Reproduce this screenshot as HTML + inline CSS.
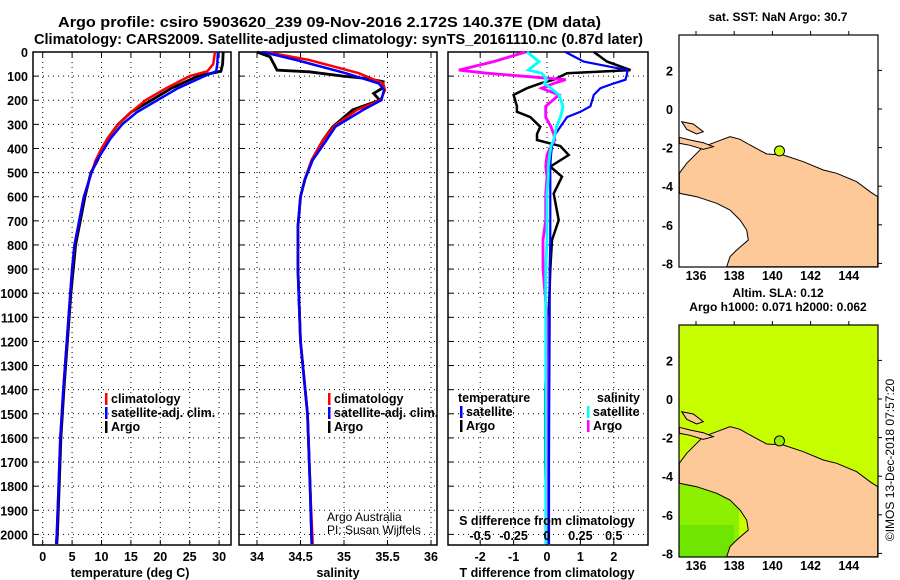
<!DOCTYPE html>
<html><head><meta charset="utf-8"><style>
body{margin:0;background:#fff;}
svg{display:block;font-family:"Liberation Sans",sans-serif;font-weight:bold;}
</style></head><body>
<svg id="s" width="900" height="580" viewBox="0 0 900 580" xmlns="http://www.w3.org/2000/svg">
<text x="58" y="27" font-size="14.5" textLength="543" lengthAdjust="spacingAndGlyphs">Argo profile: csiro 5903620_239 09-Nov-2016 2.172S 140.37E (DM data)</text>
<text x="34" y="44" font-size="14.5" textLength="609" lengthAdjust="spacingAndGlyphs">Climatology: CARS2009. Satellite-adjusted climatology: synTS_20161110.nc (0.87d later)</text>
<g id="g"></g>
</svg>
<script>
// ---- data ----
const tDepth = [0,50,80,100,150,200,250,300,360,400,450,500,600,700,800,900,1000,1200,1400,1600,1800,2000,2040];
const tArgo  = [30.7,30.6,30.3,26.4,21.9,18.5,15,12.8,11,10.2,9.3,8.2,7.2,6.4,5.6,5.2,4.8,4.2,3.6,3.1,2.8,2.5,2.4];
const tClim  = [29.3,29.0,28.0,25.0,21.0,17.5,15,12.8,11,10.0,9.0,8.3,7.0,6.2,5.4,5.0,4.7,4.1,3.5,3.0,2.7,2.4,2.3];
const tSat   = [29.8,29.7,29.5,27.5,23.0,19.5,16,13.5,11.5,10.5,9.2,8.3,7.0,6.2,5.4,5.0,4.7,4.1,3.5,3.0,2.7,2.4,2.3];
const sDepthArgo = [0,20,47,75,82,100,110,123,150,172,200,240,310,365,448,530,600,725,900,1200,1500,1800,2040];
const sArgo = [34.0,34.15,34.19,34.23,34.6,34.99,35.26,35.45,35.44,35.34,35.41,35.1,34.87,34.76,34.63,34.55,34.5,34.47,34.47,34.5,34.58,34.61,34.63];
const sDepthClim = [0,33,88,130,158,200,240,310,365,448,530,600,725,900,1200,1500,1800,2040];
const sClim = [34.1,34.6,35.17,35.45,35.47,35.42,35.15,34.88,34.76,34.63,34.55,34.5,34.47,34.47,34.5,34.58,34.61,34.64];
const sSat  = [34.07,34.45,35.02,35.4,35.46,35.43,35.22,34.9,34.8,34.64,34.55,34.5,34.47,34.47,34.5,34.58,34.61,34.63];
const dDepth = [0,40,75,88,115,130,150,178,225,248,270,310,340,365,390,427,475,517,587,697,780,900,1100,1400,1700,2040];
const dTArgo = [1.4,1.8,2.5,0.6,0.2,-0.2,-0.6,-1.0,-0.9,-0.9,-0.5,-0.2,-0.3,-0.3,0.4,0.65,0.1,0.45,0.2,0.35,0.15,0.1,0.05,-0.05,-0.05,0];
const dTSat  = [0.55,1.1,2.4,2.4,2.35,2.0,1.6,1.4,1.3,1.0,0.6,0.4,0.25,0.2,0.15,0.12,0.1,0.1,0.1,0.1,0.1,0.08,0.08,0.07,0.06,0.06];
const dSArgo = [-0.16,-0.4,-0.66,-0.45,0.14,0.05,-0.04,0.09,-0.01,-0.01,-0.01,0.03,0.05,0.06,0.03,0.0,-0.01,0.0,-0.01,-0.01,-0.03,-0.03,0.0,0.0,0.0,0.0];
const dSSat  = [-0.15,-0.06,-0.14,-0.04,0.0,-0.02,0.03,0.09,0.12,0.11,0.1,0.07,0.06,0.05,0.03,0.02,0.01,0.01,0.0,0.0,0.0,-0.01,-0.01,-0.01,-0.01,-0.01];
const depthTicks = [0,100,200,300,400,500,600,700,800,900,1000,1100,1200,1300,1400,1500,1600,1700,1800,1900,2000];
const tTicks = [0,5,10,15,20,25,30];
const sTicks = [34,34.5,35,35.5,36];
const sTickLabels = ['34','34.5','35','35.5','36'];
const dTTicks = [-2,-1,0,1,2];
const dSTicks = [-0.5,-0.25,0,0.25,0.5];
const dSTickLabels = ['-0.5','-0.25','0','0.25','0.5'];
const lonTicks = [136,138,140,142,144];
const latTicks = [2,0,-2,-4,-6,-8];
const argoLon = 140.37, argoLat = -2.172;

// ---- helpers ----
const NS='http://www.w3.org/2000/svg';
const G=document.getElementById('g');
function mk(tag,attrs,parent){const e=document.createElementNS(NS,tag);for(const k in attrs)e.setAttribute(k,attrs[k]);(parent||G).appendChild(e);return e;}
function txt(x,y,s,size,anchor,extra){const e=mk('text',Object.assign({x:x,y:y,'font-size':size||12,'text-anchor':anchor||'start'},extra||{}));e.textContent=s;return e;}
const yD = d => 52 + d*0.2412;
const PT=52, PB=545;

function panel(x0,x1,xs,ticks,labels,name){
  const box=mk('rect',{x:x0,y:PT,width:x1-x0,height:PB-PT,fill:'none',stroke:'#000','stroke-width':1.5});
  
  
  depthTicks.forEach(d=>{ if(d>0){const l=mk('line',{x1:x0,x2:x1,y1:yD(d),y2:yD(d),stroke:'#000','stroke-dasharray':'1 4','stroke-width':1});
    
    }
    mk('line',{x1:x0,x2:x0+5,y1:yD(d),y2:yD(d),stroke:'#000'});});
  ticks.forEach((v,i)=>{const x=xs(v);
    const l=mk('line',{x1:x,x2:x,y1:PT,y2:PB,stroke:'#000','stroke-dasharray':'1 4','stroke-width':1});
    
    
    mk('line',{x1:x,x2:x,y1:PB,y2:PB-5,stroke:'#000'});mk('line',{x1:x,x2:x,y1:PT,y2:PT+5,stroke:'#000'});
    if(labels){const t=txt(x,561,labels[i],12.5,'middle');
      
      }
  });
}
function line(xs,vals,depths,color,name,w){
  const pts=vals.map((v,i)=>xs(v).toFixed(1)+','+yD(depths[i]).toFixed(1)).join(' ');
  const p=mk('polyline',{points:pts,fill:'none',stroke:color,'stroke-width':w||2.5});
  
  
}
function legendEntry(x,y,color,label,name){
  mk('rect',{x:x,y:y-10,width:2.5,height:12,fill:color});
  const t=txt(x+6,y,label,12.5);
  
  
}

// ---- Panel 1: temperature ----
const xT = v => 42.7 + v*5.88;
panel(33,231,xT,tTicks,tTicks.map(String),'temperature-panel');
depthTicks.forEach(d=>{const t=txt(28,yD(d)+5,String(d),12.5,'end');
  
  });
line(xT,tArgo,tDepth,'#000','temperature-argo-line',2.8);
line(xT,tClim,tDepth,'#f00','temperature-climatology-line',2.5);
line(xT,tSat,tDepth,'#00f','temperature-satellite-line',2.5);
legendEntry(105,403,'#f00','climatology','legend-climatology');
legendEntry(105,417,'#00f','satellite-adj. clim.','legend-satellite-adj');
legendEntry(105,431,'#000','Argo','legend-argo');
txt(130,577,'temperature (deg C)',12.5,'middle',{});

// ---- Panel 2: salinity ----
const xS = v => 257 + (v-34)*87;
panel(239,437,xS,sTicks,sTickLabels,'salinity-panel');
line(xS,sArgo,sDepthArgo,'#000','salinity-argo-line',2.8);
line(xS,sClim,sDepthClim,'#f00','salinity-climatology-line',2.5);
line(xS,sSat,sDepthClim,'#00f','salinity-satellite-line',2.5);
legendEntry(328,403,'#f00','climatology','legend-climatology-2');
legendEntry(328,417,'#00f','satellite-adj. clim.','legend-satellite-adj-2');
legendEntry(328,431,'#000','Argo','legend-argo-2');
txt(327,521,'Argo Australia',12,'start',{'font-weight':'normal',});
txt(327,534,'PI: Susan Wijffels',12,'start',{'font-weight':'normal',});
txt(338,577,'salinity',12.5,'middle',{});

// ---- Panel 3: differences ----
const xDT = v => 547 + v*33.4;
const xDS = v => 547 + v*4*33.4;
panel(448,648,xDT,dTTicks,dTTicks.map(String),'difference-panel');
line(xDT,dTArgo,dDepth,'#000','t-diff-argo-line',2.5);
line(xDS,dSArgo,dDepth,'#f0f','s-diff-argo-line',2.8);
line(xDT,dTSat,dDepth,'#00f','t-diff-satellite-line',2.2);
line(xDS,dSSat,dDepth,'#0ff','s-diff-satellite-line',2.8);
dSTicks.forEach((v,i)=>{const t=txt(xDS(v),540,dSTickLabels[i],12.5,'middle');
  
  });
txt(458,402,'temperature',12.5,'start',{});
legendEntry(460,416,'#00f','satellite','legend-t-satellite');
legendEntry(460,430,'#000','Argo','legend-t-argo');
txt(640,402,'salinity',12.5,'end',{});
legendEntry(587,416,'#0ff','satellite','legend-s-satellite');
legendEntry(587,430,'#f0f','Argo','legend-s-argo');
txt(547,525,'S difference from climatology',12.5,'middle',{});
txt(547,577,'T difference from climatology',12.5,'middle',{});

// ---- Maps ----
const land=[[28,520],[50,490],[80,460],[100,440],[140,425],[180,410],[210,418],[240,435],[290,462],[340,465],[400,485],[460,510],[500,520],[560,545],[600,575],[623,590],[623,800],[170,800],[180,770],[200,750],[235,720],[230,690],[210,660],[180,630],[140,610],[80,590],[28,580]];
const isl1=[[35,365],[70,372],[100,395],[80,402],[50,388]];
const isl2=[[28,412],[60,420],[100,428],[130,440],[100,448],[60,436],[28,430]];
function map(top,bg,name,title1,title2){
  const ox=670, oy=top-35;
  const grp=mk('g',{});
  
  
  mk('rect',{x:679,y:top,width:199,height:232,fill:bg},grp);
  if(bg!=='#fff'){
    mk('rect',{x:679,y:top+160,width:60,height:72,fill:'#8cf000'},grp);
    mk('rect',{x:679,y:top+200,width:55,height:32,fill:'#6ee600'},grp);
    mk('rect',{x:845,y:top+225,width:30,height:7,fill:'#6ee600'},grp);
  }
  const pp=a=>a.map(p=>(ox+p[0]/3).toFixed(1)+','+(oy+p[1]/3).toFixed(1)).join(' ');
  mk('polygon',{points:pp(land),fill:'#fdc998',stroke:'#000','stroke-width':1},grp);
  mk('polygon',{points:pp(isl1),fill:'#fdc998',stroke:'#000','stroke-width':1},grp);
  mk('polygon',{points:pp(isl2),fill:'#fdc998',stroke:'#000','stroke-width':1},grp);
  const lonX=l=>696+(l-136)*19.1, latY=l=>top+74-l*19.3;
  const dot=mk('circle',{cx:lonX(argoLon),cy:latY(argoLat),r:5,fill:bg==='#fff'?'#ccff00':'#99ee00',stroke:'#000','stroke-width':1},grp);
  
  
  mk('rect',{x:679,y:top,width:199,height:232,fill:'none',stroke:'#000','stroke-width':1.2},grp);
  lonTicks.forEach(l=>{const x=lonX(l);mk('line',{x1:x,x2:x,y1:top,y2:top-4,stroke:'#000'},grp);
    const t=txt(x,top+245,String(l),12.5,'middle');
    
    });
  latTicks.forEach(l=>{const y=latY(l);mk('line',{x1:878,x2:882,y1:y,y2:y,stroke:'#000'},grp);
    const t=txt(673,y+5,String(l),12.5,'end');
    
    });
  if(title2){txt(778,top-28,title1,12,'middle');txt(778,top-14,title2,12,'middle');}
  else txt(778,top-14,title1,12,'middle');
}
map(35,'#fff','sst-map','sat. SST: NaN Argo: 30.7');
map(325,'#c8ff00','sla-map','Altim. SLA: 0.12','Argo h1000: 0.071 h2000: 0.062');
const im=txt(0,0,'©IMOS 13-Dec-2018 07:57:20',12,'middle',{'font-weight':'normal',transform:'translate(894,460) rotate(-90)'});


</script>
</body></html>
